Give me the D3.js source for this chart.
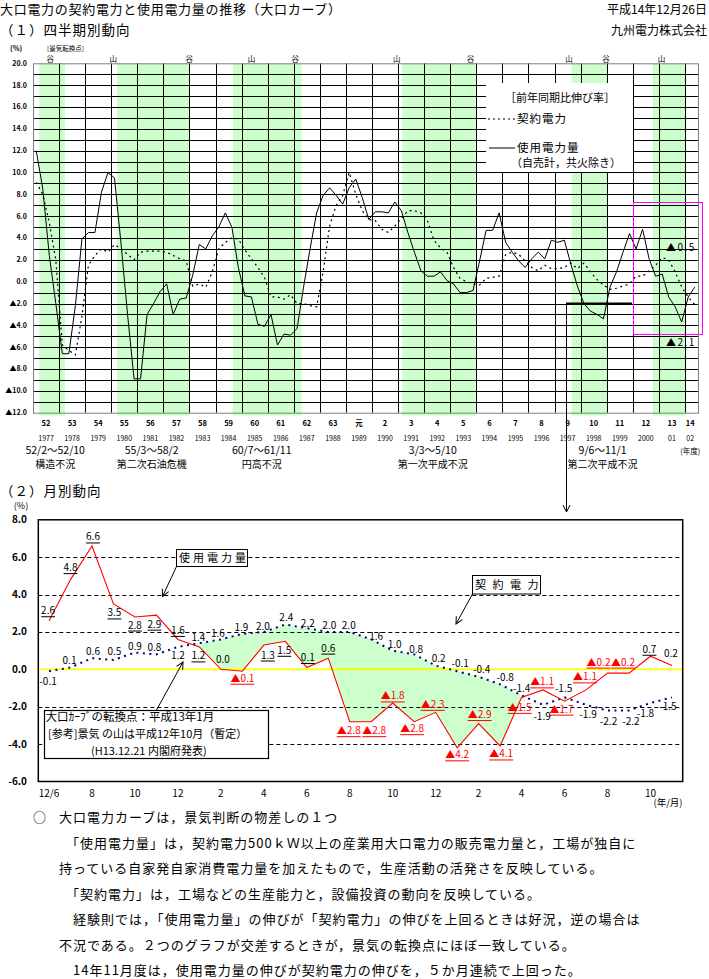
<!DOCTYPE html>
<html lang="ja"><head><meta charset="utf-8">
<script src="https://cdn.jsdelivr.net/npm/d3@7"></script>
<style>
html,body{margin:0;padding:0;background:#fff;}
svg text{font-family:"Noto Sans CJK JP","Noto Sans",sans-serif;}
</style></head>
<body>
<svg id="chart" width="709" height="979" xmlns="http://www.w3.org/2000/svg"></svg>
<script>
// ================= DATA =================
// (1) quarterly, fiscal years S52 (1977) .. H14 (2002, two quarters)
const fyLabels = ["52","53","54","55","56","57","58","59","60","61","62","63","元","2","3","4","5","6","7","8","9","10","11","12","13","14"];
const calYearLabels = ["1977","1978","1979","1980","1981","1982","1983","1984","1985","1986","1987","1988","1989","1990","1991","1992","1993","1994","1995","1996","1997","1998","1999","2000","01","02"];
const usageQ = [12.0,8.5,2.4,-2.0,-6.6,-6.6,-2.2,3.9,4.5,4.5,
  8.2,10.0,9.5,3.5,-3.0,-8.9,-8.9,-3.0,-2.0,-0.9,
  -0.2,-3.0,-1.6,-1.5,0.6,3.4,3.0,4.2,5.0,6.3,
  5.0,1.3,-1.3,-1.4,-3.9,-4.1,-3.0,-5.8,-4.8,-4.9,
  -4.3,-0.5,3.0,6.3,7.9,8.6,7.9,7.1,8.6,9.4,
  7.7,5.7,6.4,6.4,6.3,7.3,6.5,4.5,2.7,1.0,
  0.5,0.5,0.9,0.1,-0.2,-1.0,-1.0,-0.8,1.9,4.7,
  4.7,6.3,3.6,2.7,1.9,1.3,2.1,2.7,2.1,3.8,
  3.6,3.8,1.6,-0.4,-2.0,-2.7,-3.0,-3.4,-0.5,0.9,
  2.7,4.4,3.0,4.8,2.1,0.5,0.7,-1.4,-2.3,-3.7,
  -1.4,-0.5];
const contractQ = [9.1,8.0,5.4,2.0,-5.8,-6.3,-6.7,-3.2,1.5,2.4,
  3.0,2.7,3.4,3.0,2.5,2.0,2.7,2.8,2.8,2.8,
  2.7,2.4,2.1,1.9,-0.4,-0.2,-0.5,0.9,3.0,3.6,
  4.0,3.9,2.9,2.1,1.3,0.4,-1.4,-1.4,-1.6,-1.2,
  -2.0,-2.0,-2.2,-2.3,0.9,5.1,7.0,7.9,10.0,8.0,
  6.5,5.7,5.6,4.8,4.5,5.1,5.8,6.5,6.5,6.3,
  5.6,3.8,3.1,2.7,1.3,0.3,0.0,-0.2,-0.3,0.3,
  0.4,0.5,2.5,2.7,2.5,1.9,1.3,1.0,1.5,1.2,
  1.2,1.3,1.7,1.2,1.7,0.9,0.2,-0.3,-0.7,-0.6,
  -0.4,-0.2,0.5,0.5,1.0,1.5,2.2,2.0,0.9,-0.5,
  -1.4,-2.1];
// recession periods (in fiscal-year units from FY52 start)
const recessionBands = [[0.24,1.23],[3.23,6.02],[7.66,10.3],[14.16,16.97],[20.65,22.02],[23.77,25.05]];
const turnMarks = [[0.66,"谷"],[3.08,"山"],[5.99,"谷"],[8.38,"山"],[10.06,"谷"],[13.95,"山"],[16.78,"谷"],[20.55,"山"],[21.97,"谷"],[24.1,"山"]];
const recessionNames = [[0.85,"52/2～52/10","構造不況"],[4.55,"55/3～58/2","第二次石油危機"],[8.77,"60/7～61/11","円高不況"],[15.33,"3/3～5/10","第一次平成不況"],[21.84,"9/6～11/1","第二次平成不況"]];
const topYTicks = [20,18,16,14,12,10,8,6,4,2,0,-2,-4,-6,-8,-10,-12];

// (2) monthly, H12/6 .. H14/11
const monthLabels = ["12/6","","8","","10","","12","","2","","4","","6","","8","","10","","12","","2","","4","","6","","8","","10",""];
const usageM = [2.6,4.8,6.6,3.5,2.8,2.9,1.6,1.2,0.0,-0.1,1.3,1.5,0.1,0.6,-2.8,-2.8,-1.8,-2.8,-2.3,-4.2,-2.9,-4.1,-1.5,-1.1,-1.7,-1.1,-0.2,-0.2,0.7,0.2];
const contractM = [-0.1,0.1,0.6,0.5,0.9,0.8,1.2,1.4,1.6,1.9,2.0,2.4,2.2,2.0,2.0,1.6,1.0,0.8,0.2,-0.1,-0.4,-0.8,-1.4,-1.9,-1.5,-1.9,-2.2,-2.2,-1.8,-1.5];
const bottomYTicks = [8,6,4,2,0,-2,-4,-6];

const notes = [
  "大口電力カーブは，景気判断の物差しの１つ",
  "「使用電力量」は，契約電力500ｋＷ以上の産業用大口電力の販売電力量と，工場が独自に",
  "持っている自家発自家消費電力量を加えたもので，生産活動の活発さを反映している。",
  "「契約電力」は，工場などの生産能力と，設備投資の動向を反映している。",
  "経験則では，「使用電力量」の伸びが「契約電力」の伸びを上回るときは好況，逆の場合は",
  "不況である。２つのグラフが交差するときが，景気の転換点にほぼ一致している。",
  "14年11月度は，使用電力量の伸びが契約電力の伸びを，５か月連続で上回った。"
];

// ================= LAYOUT =================
const JP = '"Noto Sans CJK JP", sans-serif';
const NUM = '"Liberation Sans", Arial, sans-serif';
const usageLabelOff = [[-1,-10],[0,-12],[1,-9],[1,9],[0,8],[-2,9],[0,-9],[-1,9],[2,-10],[0,7],[4,10],[-1,9],[1,-10],[0,-10],[-1,9],[3,9],[0,-7],[-2,7],[-3,-8],[0,7],[1,-9],[1,8],[-2,10],[-1,-8],[-3,8],[-1,-13],[-9,-11],[-6,-11],[-1,-7],[-1,-12]];
const usageUnderline = usageM.map((v,i)=> !(i===8 || i===29));
const contractLabelOff = [[-1,10],[-1,-7],[1,-7],[1,-8],[0,-6],[-2,-7],[0,9],[-1,-6],[-3,-6],[-1,-6],[-1,-5],[1,-7],[1,-5],[1,-6],[-1,-6],[5,-3],[2,-6],[2,-5],[3,-7],[3,-8],[3,-7],[5,-7],[0,-7],[-1,12],[-1,-9],[2,10],[1,11],[2,11],[-5,11],[-4,9]];
const noteX = [59,66,59,66,73,59,73];
const noteY = [822,847.5,873,898.5,924,949.5,975];

const svg = d3.select("#chart");
const defs = svg.append("defs");
defs.append("marker").attr("id","arr").attr("viewBox","-9 -5 10 10")
  .attr("refX",0).attr("refY",0).attr("markerWidth",10).attr("markerHeight",10)
  .attr("markerUnits","userSpaceOnUse").attr("orient","auto")
  .append("path").attr("d","M-7,-3.5L0,0L-7,3.5").attr("fill","none").attr("stroke","#000").attr("stroke-width",1);

function txt(g,x,y,s,o={}){
  const t=g.append("text").attr("x",x).attr("y",y).text(s)
    .attr("font-size",o.size||12).attr("font-family",o.family||JP)
    .attr("text-anchor",o.anchor||"start").attr("fill",o.fill||"#000");
  if(o.ls!==undefined) t.attr("letter-spacing",o.ls);
  if(o.weight) t.attr("font-weight",o.weight);
  if(o.mid) t.attr("dy","0.35em");
  return t;
}

// ---------- header ----------
txt(svg,0,13.5,"大口電力の契約電力と使用電力量の推移（大口カーブ）",{size:13,ls:0.7});
txt(svg,707,13.5,"平成14年12月26日",{size:12,anchor:"end"});
txt(svg,0,35,"（１）四半期別動向",{size:13.5,ls:1});
txt(svg,707,35,"九州電力株式会社",{size:12,anchor:"end"});

// ================= (1) quarterly chart =================
const tx = d3.scaleLinear().domain([0,25.5]).range([33,698]);
const ty = d3.scaleLinear().domain([-12,20]).range([412.7,63.3]);
const g1 = svg.append("g");

g1.selectAll("rect.band").data(recessionBands).join("rect").attr("class","band")
  .attr("x",d=>tx(d[0])).attr("width",d=>tx(d[1])-tx(d[0]))
  .attr("y",ty(20)).attr("height",ty(-12)-ty(20)+3).attr("fill","#ccffcc");

g1.selectAll("line.hg").data(d3.range(-11,20)).join("line").attr("class","hg")
  .attr("x1",tx(0)).attr("x2",tx(25.5)).attr("y1",d=>Math.round(ty(d))+0.5).attr("y2",d=>Math.round(ty(d))+0.5)
  .attr("stroke","#000").attr("stroke-width",1);
g1.selectAll("line.vg").data(d3.range(1,26)).join("line").attr("class","vg")
  .attr("x1",d=>Math.round(tx(d))+0.5).attr("x2",d=>Math.round(tx(d))+0.5).attr("y1",ty(20)).attr("y2",ty(-12))
  .attr("stroke","#000").attr("stroke-width",1);
g1.append("rect").attr("x",tx(0)+0.5).attr("y",ty(20)+0.5).attr("width",tx(25.5)-tx(0)).attr("height",ty(-12)-ty(20))
  .attr("fill","none").attr("stroke","#808080").attr("stroke-width",1);

// legend box (white, covers grid)
const lg = g1.append("g");
lg.append("rect").attr("x",486).attr("y",83).attr("width",147).attr("height",89).attr("fill","#fff");
txt(lg,505,98,"［前年同期比伸び率］",{size:11,mid:true});
lg.append("line").attr("x1",488).attr("x2",515).attr("y1",119).attr("y2",119).attr("stroke","#000").attr("stroke-dasharray","2,3");
txt(lg,517,119,"契約電力",{size:11.5,ls:1,mid:true});
lg.append("line").attr("x1",489).attr("x2",515).attr("y1",148).attr("y2",148).attr("stroke","#000");
txt(lg,517,148,"使用電力量",{size:11.5,ls:1,mid:true});
txt(lg,511,163,"（自売計，共火除き）",{size:11,mid:true});

// series
const qx = i => tx((i+0.5)/4);
const topLine = d3.line().x((d,i)=>qx(i)).y(d=>ty(d));
g1.append("path").datum(contractQ).attr("d",topLine).attr("fill","none").attr("stroke","#000")
  .attr("stroke-width",1.2).attr("stroke-dasharray","2,3.5");
g1.append("path").datum(usageQ).attr("d",topLine).attr("fill","none").attr("stroke","#000").attr("stroke-width",1);

// y tick labels
const fmtTop = v => v<0 ? "▲"+(-v).toFixed(1) : v.toFixed(1);
g1.selectAll("text.yt").data(topYTicks).join("text").attr("class","yt")
  .attr("x",27).attr("y",d=>ty(d)).attr("dy","0.35em").attr("text-anchor","end")
  .attr("font-size",7).attr("font-weight","bold").attr("font-family",NUM).text(fmtTop);
txt(g1,10,49,"(%)",{size:7,family:NUM,weight:"bold",mid:true});
txt(g1,47,48.5,"[景気転換点]",{size:6.5,mid:true});
g1.selectAll("text.tm").data(turnMarks).join("text").attr("class","tm")
  .attr("x",d=>tx(d[0])).attr("y",59).attr("dy","0.35em").attr("text-anchor","middle")
  .attr("font-size",7.5).attr("font-family",JP).text(d=>d[1]);

// x labels
const yearCenter = i => i<25 ? tx(i+0.5) : tx(25.2);
g1.selectAll("text.fy").data(fyLabels).join("text").attr("class","fy")
  .attr("x",(d,i)=>yearCenter(i)).attr("y",423).attr("dy","0.35em").attr("text-anchor","middle")
  .attr("font-size",7.5).attr("font-family",NUM).attr("font-weight","bold").text(d=>d);
g1.selectAll("text.cy").data(calYearLabels).join("text").attr("class","cy")
  .attr("x",(d,i)=>yearCenter(i)).attr("y",438.5).attr("dy","0.35em").attr("text-anchor","middle")
  .attr("font-size",7).attr("font-family",NUM).text(d=>d);
txt(g1,tx(25.2),451,"(年度)",{size:7.5,anchor:"middle",mid:true});
recessionNames.forEach(r=>{
  txt(g1,tx(r[0]),450.5,r[1],{size:10.5,anchor:"middle",mid:true});
  txt(g1,tx(r[0]),464,r[2],{size:10,anchor:"middle",mid:true});
});

// annotations: last values, magenta box, link arrow
txt(g1,666,247,"▲0.5",{size:10,ls:1.5,family:NUM,mid:true});
txt(g1,666,342.5,"▲2.1",{size:10,ls:1.5,family:NUM,mid:true});
g1.append("rect").attr("x",633.5).attr("y",202.5).attr("width",69).attr("height",132)
  .attr("fill","none").attr("stroke","#ff00ff").attr("stroke-width",1);
g1.append("line").attr("x1",566).attr("x2",632).attr("y1",ty(-2)).attr("y2",ty(-2)).attr("stroke","#000").attr("stroke-width",2.2);
g1.append("line").attr("x1",566.5).attr("x2",566.5).attr("y1",ty(-2)).attr("y2",512)
  .attr("stroke","#000").attr("stroke-width",1).attr("marker-end","url(#arr)");

// ================= (2) monthly chart =================
txt(svg,0,496,"（２）月別動向",{size:13.5,ls:1});
const mx = d3.scaleLinear().domain([-0.5,29.5]).range([38.3,682.7]);
const my = d3.scaleLinear().domain([-6,8]).range([781.5,519.8]);
const g2 = svg.append("g");

// fill between lines where contract > usage
const redLine = d3.line().x((d,i)=>mx(i)).y(d=>my(d));
defs.append("clipPath").attr("id","aboveRed").append("path")
  .attr("d",d3.area().x((d,i)=>mx(i)).y0(my(8)).y1(d=>my(d))(usageM));
g2.append("path").attr("d",d3.area().x((d,i)=>mx(i)).y0(my(-6)).y1(d=>my(d))(contractM))
  .attr("fill","#ccffcc").attr("clip-path","url(#aboveRed)");

g2.selectAll("line.dg").data([6,4,2,-2,-4]).join("line").attr("class","dg")
  .attr("x1",mx(-0.5)).attr("x2",mx(29.5)).attr("y1",d=>Math.round(my(d))+0.5).attr("y2",d=>Math.round(my(d))+0.5)
  .attr("stroke","#000").attr("stroke-width",1).attr("stroke-dasharray","4,3");
g2.append("line").attr("x1",mx(-0.5)).attr("x2",mx(29.5)).attr("y1",my(0)).attr("y2",my(0))
  .attr("stroke","#ffff00").attr("stroke-width",1.6);
g2.append("rect").attr("x",mx(-0.5)).attr("y",my(8)).attr("width",mx(29.5)-mx(-0.5)).attr("height",my(-6)-my(8))
  .attr("fill","none").attr("stroke","#000").attr("stroke-width",1.5);

g2.append("path").datum(contractM).attr("d",redLine).attr("fill","none").attr("stroke","#000080")
  .attr("stroke-width",2).attr("stroke-dasharray","2,4.5");
g2.append("path").datum(usageM).attr("d",redLine).attr("fill","none").attr("stroke","#ff0000").attr("stroke-width",1.1);

g2.selectAll("text.yt2").data(bottomYTicks).join("text").attr("class","yt2")
  .attr("x",27).attr("y",d=>my(d)).attr("dy","0.35em").attr("text-anchor","end")
  .attr("font-size",10).attr("font-family",NUM).attr("font-weight","bold").text(d=>d.toFixed(1));
txt(g2,21,506,"(%)",{size:9,family:NUM,anchor:"middle",mid:true});
g2.selectAll("text.mt").data(monthLabels).join("text").attr("class","mt")
  .attr("x",(d,i)=>mx(i)).attr("y",793).attr("dy","0.35em").attr("text-anchor","middle")
  .attr("font-size",10).attr("font-family",NUM).text(d=>d);
txt(g2,668,803,"(年/月)",{size:9.5,anchor:"middle",mid:true});

// value labels
function valueLabel(v,i,off,isUsage,ul){
  const neg = v<0;
  const s = isUsage ? (neg ? "▲"+(-v).toFixed(1) : v.toFixed(1)) : (neg ? "-"+(-v).toFixed(1) : v.toFixed(1));
  const col = (isUsage && neg) ? "#ff0000" : "#000";
  const x = mx(i)+off[0], y = my(v)+off[1];
  const t = txt(g2,x,y,s,{size:10,family:NUM,anchor:"middle",fill:col,mid:true});
  if(ul){
    const w = t.node().getComputedTextLength();
    g2.append("line").attr("x1",x-w/2).attr("x2",x+w/2).attr("y1",y+6).attr("y2",y+6)
      .attr("stroke",col).attr("stroke-width",1);
  }
}
usageM.forEach((v,i)=>valueLabel(v,i,usageLabelOff[i],true,usageUnderline[i]));
contractM.forEach((v,i)=>valueLabel(v,i,contractLabelOff[i],false,false));

// callouts
g2.append("rect").attr("x",176.5).attr("y",549.5).attr("width",71).attr("height",17).attr("fill","#fff").attr("stroke","#000");
txt(g2,179,558,"使用電力量",{size:11,ls:3,mid:true});
g2.append("line").attr("x1",176.5).attr("y1",566.5).attr("x2",162.5).attr("y2",596.5).attr("stroke","#000").attr("marker-end","url(#arr)");

g2.append("rect").attr("x",472.5).attr("y",575.5).attr("width",68).attr("height",18.5).attr("fill","#fff").attr("stroke","#000");
txt(g2,475,585,"契約電力",{size:11,ls:6.5,mid:true});
g2.append("line").attr("x1",472.5).attr("y1",594).attr("x2",456).attr("y2",624).attr("stroke","#000").attr("marker-end","url(#arr)");

g2.append("rect").attr("x",44.5).attr("y",710.5).attr("width",224).attr("height",48).attr("fill","#fff").attr("stroke","#000").attr("stroke-width",1.2);
txt(g2,45.5,717,"大口ｶｰﾌﾞの転換点：平成13年1月",{size:11.5,mid:true});
txt(g2,48,734.5,"[参考]景気 の山は平成12年10月（暫定）",{size:11,mid:true});
txt(g2,91,751,"(H13.12.21 内閣府発表)",{size:11,mid:true});
g2.append("line").attr("x1",156.5).attr("y1",710).attr("x2",183).attr("y2",662).attr("stroke","#000").attr("marker-end","url(#arr)");

// ================= notes =================
txt(svg,33,noteY[0],"○",{size:13});
notes.forEach((s,i)=>txt(svg,noteX[i],noteY[i],s,{size:13,ls:1}));
</script>
</body></html>
